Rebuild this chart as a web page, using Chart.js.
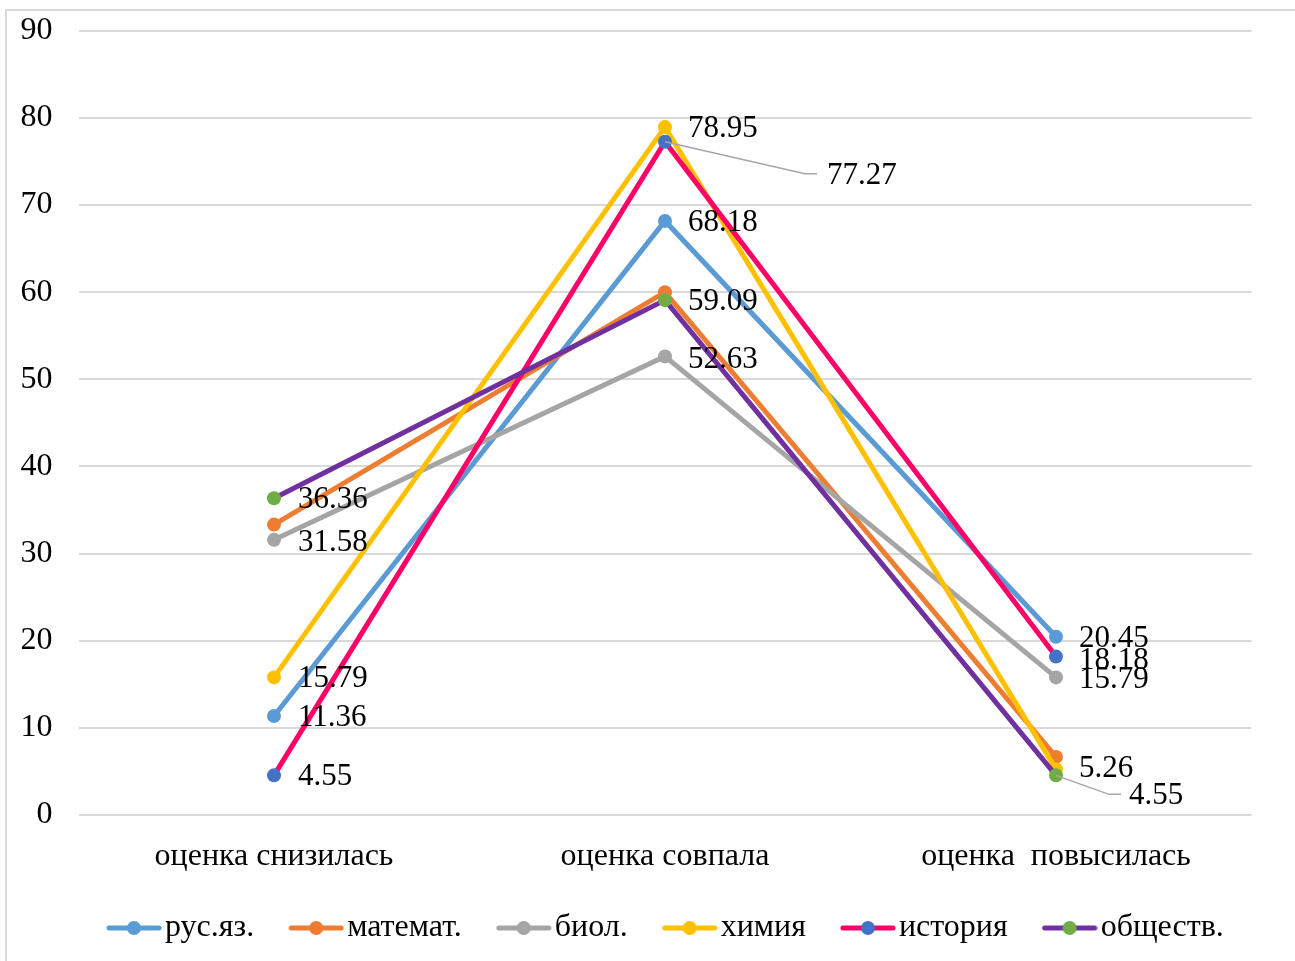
<!DOCTYPE html>
<html>
<head>
<meta charset="utf-8">
<script src="https://cdn.jsdelivr.net/npm/chart.js@4/dist/chart.umd.min.js"></script>
<style>
  html, body { margin: 0; padding: 0; background: #fff; }
  #frame { position: absolute; left: 5px; top: 9px; width: 1300px; height: 960px;
           border-left: 2px solid #d9d9d9; border-top: 2px solid #d9d9d9; }
  #wrap { position: absolute; left: 0; top: 0; width: 1295px; height: 961px; }
</style>
</head>
<body>
<div id="frame"></div>
<div id="wrap"><canvas id="chart"></canvas></div>
<script>
const categories = ['оценка снизилась', 'оценка совпала', 'оценка  повысилась']
const yTicks = [0, 10, 20, 30, 40, 50, 60, 70, 80, 90]

const rusValues = [11.36, 68.18, 20.45]
const mathValues = [33.33, 60.00, 6.67]
const biolValues = [31.58, 52.63, 15.79]
const chemValues = [15.79, 78.95, 5.26]
const histValues = [4.55, 77.27, 18.18]
const socValues = [36.36, 59.09, 4.55]

const FONT = "'Liberation Serif', 'Times New Roman', serif"

// [label, values, line colour, marker colour]
const series = [
    ['рус.яз.', rusValues, '#5b9bd5', '#5b9bd5'],
    ['математ.', mathValues, '#ed7d31', '#ed7d31'],
    ['биол.', biolValues, '#a5a5a5', '#a5a5a5'],
    ['химия', chemValues, '#ffc000', '#ffc000'],
    ['история', histValues, '#ff0066', '#4472c4'],
    ['обществ.', socValues, '#7030a0', '#70ad47']
]

// line+marker picture for the legend, blank on the left so the gap to the text stays small
function legendIcon(line, marker) {
    const c = document.createElement('canvas')
    c.width = 93
    c.height = 16
    const g = c.getContext('2d')
    g.strokeStyle = line
    g.lineWidth = 5
    g.lineCap = 'round'
    g.beginPath()
    g.moveTo(40, 8)
    g.lineTo(90, 8)
    g.stroke()
    g.fillStyle = marker
    g.beginPath()
    g.arc(65, 8, 7, 0, Math.PI * 2)
    g.fill()
    return c
}

// which points get a value label: [dataset, point, dx, dy, leader]
const labelSpots = [
    [5, 0, 24, 2], [2, 0, 24, 3], [3, 0, 24, 1], [0, 0, 24, 2], [4, 0, 24, 2],
    [3, 1, 23, 2], [4, 1, 162, 34, [140, 32, 12]], [0, 1, 23, 2], [5, 1, 23, 2], [2, 1, 23, 3],
    [0, 2, 23, 2], [4, 2, 23, 4], [2, 2, 23, 2], [3, 2, 23, 0], [5, 2, 73, 21, [53, 19, 12]]
]

const valueLabels = {
    id: 'valueLabels',
    afterLayout(chart) {
        // legend row starts under the plot, not at the canvas edge
        chart.legend.left = 72
    },
    afterDatasetsDraw(chart) {
        const ctx = chart.ctx
        ctx.save()
        ctx.font = '31px ' + FONT
        ctx.fillStyle = '#000'
        ctx.textAlign = 'left'
        ctx.textBaseline = 'middle'
        labelSpots.forEach(([ds, i, dx, dy, leader]) => {
            const pt = chart.getDatasetMeta(ds).data[i]
            const v = chart.data.datasets[ds].data[i]
            if (leader) {
                ctx.strokeStyle = '#a6a6a6'
                ctx.lineWidth = 1.5
                ctx.beginPath()
                ctx.moveTo(pt.x, pt.y)
                ctx.lineTo(pt.x + leader[0], pt.y + leader[1])
                ctx.lineTo(pt.x + leader[0] + leader[2], pt.y + leader[1])
                ctx.stroke()
            }
            ctx.fillText(v.toFixed(2), pt.x + dx, pt.y + dy)
        })
        ctx.restore()
    }
}

const datasets = series.map(([label, values, line, marker], idx) => ({
    label: label,
    data: values,
    borderColor: line,
    backgroundColor: marker,
    pointBackgroundColor: marker,
    pointBorderColor: marker,
    borderWidth: 5,
    pointRadius: 7,
    pointBorderWidth: 0,
    tension: 0,
    order: series.length - idx,
    icon: legendIcon(line, marker)
}))

new Chart(document.getElementById('chart'), {
    type: 'line',
    data: { labels: categories, datasets: datasets },
    options: {
        responsive: true,
        maintainAspectRatio: false,
        animation: false,
        layout: { padding: { left: 0, right: 43.5, top: 0, bottom: 9 } },
        plugins: {
            tooltip: { enabled: false },
            legend: {
                position: 'bottom',
                align: 'start',
                maxHeight: 50,
                labels: {
                    usePointStyle: true,
                    pointStyleWidth: 67,
                    padding: 10,
                    color: '#000',
                    font: { family: FONT, size: 32 },
                    sort: (a, b) => a.datasetIndex - b.datasetIndex,
                    generateLabels(chart) {
                        return chart.data.datasets.map((d, i) => ({
                            text: d.label,
                            datasetIndex: i,
                            pointStyle: d.icon,
                            fillStyle: d.backgroundColor,
                            strokeStyle: d.borderColor,
                            lineWidth: 0,
                            hidden: false
                        }))
                    }
                }
            }
        },
        scales: {
            x: {
                offset: true,
                grid: { display: false },
                border: { display: false },
                ticks: { color: '#000', padding: 14.5, font: { family: FONT, size: 32 } },
                afterFit(scale) { scale.height = 87 }
            },
            y: {
                min: 0,
                max: 90,
                afterBuildTicks(scale) { scale.ticks = yTicks.map(v => ({ value: v })) },
                grid: { color: '#d9d9d9', lineWidth: 2, drawTicks: false },
                border: { display: false },
                ticks: { color: '#000', padding: 26, font: { family: FONT, size: 32, lineHeight: 0.3 } },
                afterFit(scale) { scale.width = 78.5 }
            }
        }
    },
    plugins: [valueLabels]
})
</script>
</body>
</html>
